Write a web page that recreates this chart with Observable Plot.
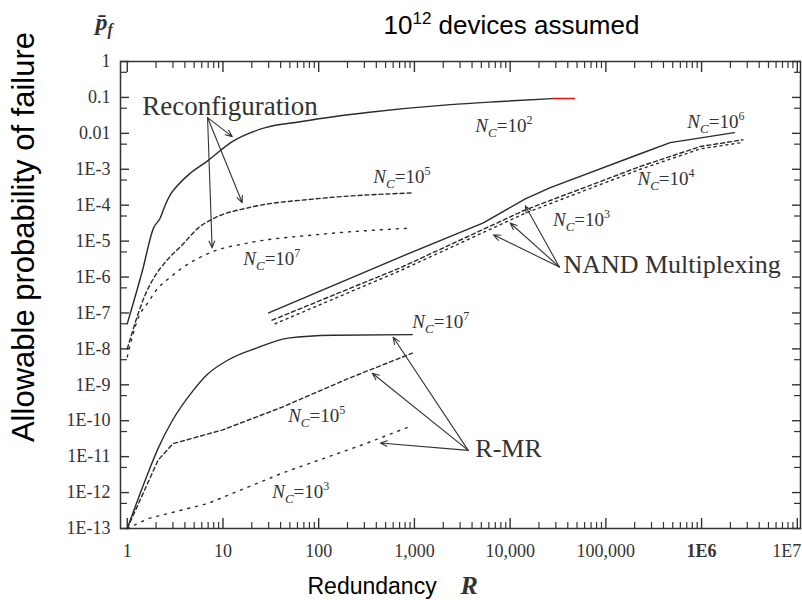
<!DOCTYPE html>
<html><head><meta charset="utf-8">
<script src="https://cdn.jsdelivr.net/npm/d3@7"></script>
<script src="https://cdn.jsdelivr.net/npm/@observablehq/plot@0.6"></script>
<style>body{margin:0;background:#fff} #chart{width:802px;height:600px}</style>
</head><body><div id="chart"></div>
<script>
// ---- Axis ticks ----
const xTickValues = [1, 10, 100, 1e3, 1e4, 1e5, 1e6, 1e7];
const xTickLabels = ["1", "10", "100", "1,000", "10,000", "100,000", "1E6", "1E7"];
const yTickValues = [1, 0.1, 0.01, 1e-3, 1e-4, 1e-5, 1e-6, 1e-7, 1e-8, 1e-9, 1e-10, 1e-11, 1e-12, 1e-13];
const yTickLabels = ["1", "0.1", "0.01", "1E-3", "1E-4", "1E-5", "1E-6", "1E-7", "1E-8", "1E-9", "1E-10", "1E-11", "1E-12", "1E-13"];
const yMinorTicks = [0.5, 0.05, 5e-3, 5e-4, 5e-5, 5e-6, 5e-7, 5e-8, 5e-9, 5e-10, 5e-11, 5e-12, 5e-13];

// ---- Reconfiguration ----
const reconfNc2_R = [1, 1.43, 1.88, 2.21, 2.49, 2.81, 3.18, 4.38, 6.81, 12.5, 27.7, 64, 142, 322, 2370, 7900, 28000];
const reconfNc2_p = [5e-8, 1.4e-6, 2.3e-5, 4.4e-5, 1.0e-4, 1.95e-4, 3.0e-4, 7.1e-4, 1.66e-3, 5.9e-3, 0.0144, 0.021, 0.029, 0.038, 0.063, 0.077, 0.093];
const reconfNc2Tail_R = [28000, 47000];
const reconfNc2Tail_p = [0.093, 0.093];
const reconfNc5_R = [1, 1.54, 1.96, 2.5, 3.76, 5.5, 8.3, 18.4, 92, 976];
const reconfNc5_p = [1e-8, 3.2e-7, 1.1e-6, 2.6e-6, 7.9e-6, 2.3e-5, 4.5e-5, 8.5e-5, 1.5e-4, 2.2e-4];
const reconfNc7_R = [1, 1.3, 1.66, 2.1, 2.7, 3.76, 7.7, 18.4, 92, 910];
const reconfNc7_p = [6e-9, 7.2e-8, 2e-7, 5e-7, 9e-7, 1.8e-6, 5e-6, 8.9e-6, 1.5e-5, 2.3e-5];

// ---- NAND multiplexing ----
const nandNc6_R = [30, 710, 5250, 14400, 26300, 229000, 470000, 2.2e6];
const nandNc6_p = [1e-7, 3.6e-6, 3.2e-5, 1.5e-4, 3.1e-4, 2.7e-3, 5.5e-3, 0.0105];
const nandNc4_R = [32.6, 710, 14400, 229000, 970000, 2.7e6];
const nandNc4_p = [6.3e-8, 1.8e-6, 7.4e-5, 1.2e-3, 4.3e-3, 6.6e-3];
const nandNc3_R = [35, 710, 14400, 229000, 970000, 2.7e6];
const nandNc3_p = [5e-8, 1.5e-6, 6e-5, 1.0e-3, 3.7e-3, 5.6e-3];

// ---- R-MR ----
const rmrNc7_R = [1, 1.54, 2.1, 2.95, 4.9, 6.8, 11.3, 23.4, 48, 140, 950];
const rmrNc7_p = [1e-13, 2.2e-12, 1.7e-11, 1e-10, 7e-10, 1.9e-9, 4.9e-9, 1.1e-8, 2e-8, 2.4e-8, 2.5e-8];
const rmrNc5_R = [1, 2.1, 3.0, 9.8, 41.7, 204, 950];
const rmrNc5_p = [1e-13, 8e-12, 2.3e-11, 5.5e-11, 2.4e-10, 1.5e-9, 7.6e-9];
const rmrNc3_R = [1, 1.66, 7, 41.7, 309, 910];
const rmrNc3_p = [1e-13, 1.9e-13, 5e-13, 3.5e-12, 2.3e-11, 7e-11];

// ---- Curve labels ----
const curveLabelText = ["N_C=10^2", "N_C=10^5", "N_C=10^7", "N_C=10^6", "N_C=10^4", "N_C=10^3", "N_C=10^7", "N_C=10^5", "N_C=10^3"];
const curveLabelR = [4330, 372, 16.3, 7.1e5, 2.14e5, 28000, 950, 48, 32.7];
const curveLabelP = [0.0112, 4.2e-4, 2.2e-6, 0.0144, 3.7e-4, 2.7e-5, 3.8e-8, 9.1e-11, 6.9e-13];

// ---- Group labels ----
const groupLabelText = ["Reconfiguration", "NAND Multiplexing", "R-MR"];
const groupLabelR = [1.435, 36000, 4330];
const groupLabelP = [0.0333, 1.3e-6, 9.6e-12];
const groupLabelSize = [27, 26, 26];

// ---- Annotation arrows ----
const arrowFromR = [6.9, 6.9, 6.9, 32700, 32700, 32700, 3650, 3650, 3650];
const arrowFromP = [0.0275, 0.0275, 0.0275, 1.9e-6, 1.9e-6, 1.9e-6, 1.5e-11, 1.5e-11, 1.5e-11];
const arrowToR = [12.5, 15.9, 7.7, 14400, 10000, 6700, 600, 363, 440];
const arrowToP = [0.0081, 1.17e-4, 6.5e-6, 9.6e-5, 3.2e-5, 1.5e-5, 2.1e-8, 2.1e-9, 2.4e-11];

// ---- build tables ----
const rows = (Rs, Ps) => Rs.map((R, i) => ({R, p: Ps[i]}));
const curveLabels = curveLabelText.map((t, i) => ({t, R: curveLabelR[i], p: curveLabelP[i]}));
const groupLabels = groupLabelText.map((t, i) => ({t, R: groupLabelR[i], p: groupLabelP[i], s: groupLabelSize[i]}));
const arrows = arrowFromR.map((r, i) => ({x1: r, y1: arrowFromP[i], x2: arrowToR[i], y2: arrowToP[i]}));

const isDecade = v => Math.abs(Math.log10(v) - Math.round(Math.log10(v))) < 1e-9;
const xMinorTicks = d3.scaleLog().domain([1, 1e7]).ticks(100).filter(v => !isDecade(v));

const W = 802, H = 600, ML = 120, MR = 2, MT = 61, MB = 72;
const INK = "#2a2a2a";
const TICK = "#333";
const blank = () => "";

const lineStyle = (dash, curve) => ({x: "R", y: "p", stroke: INK, strokeWidth: 1.4, strokeDasharray: dash, curve: curve || "linear"});

// inward-pointing tick marks on all four sides (negative tick size)
const tickAxes = [
  Plot.axisX({anchor: "top", ticks: xTickValues, tickSize: -10, tickFormat: blank, label: null, stroke: TICK, strokeWidth: 1.4}),
  Plot.axisX({anchor: "top", ticks: xMinorTicks, tickSize: -6, tickFormat: blank, label: null, stroke: TICK, strokeWidth: 1.2}),
  Plot.axisX({anchor: "bottom", ticks: xTickValues, tickSize: -10, tickFormat: blank, label: null, stroke: TICK, strokeWidth: 1.4}),
  Plot.axisX({anchor: "bottom", ticks: xMinorTicks, tickSize: -6, tickFormat: blank, label: null, stroke: TICK, strokeWidth: 1.2}),
  Plot.axisY({anchor: "left", ticks: yTickValues, tickSize: -9, tickFormat: blank, label: null, stroke: TICK, strokeWidth: 1.4}),
  Plot.axisY({anchor: "left", ticks: yMinorTicks, tickSize: -7, tickFormat: blank, label: null, stroke: TICK, strokeWidth: 1.2}),
  Plot.axisY({anchor: "right", ticks: yTickValues, tickSize: -9, tickFormat: blank, label: null, stroke: TICK, strokeWidth: 1.4}),
  Plot.axisY({anchor: "right", ticks: yMinorTicks, tickSize: -7, tickFormat: blank, label: null, stroke: TICK, strokeWidth: 1.2})
];

const svg = Plot.plot({
  width: W, height: H,
  marginLeft: ML, marginRight: MR, marginTop: MT, marginBottom: MB,
  x: {type: "log", domain: [0.85, 1.08e7]},
  y: {type: "log", domain: [1e-13, 1]},
  style: {fontFamily: "'Liberation Serif', serif", fontSize: "18px", color: "#333", background: "#fff"},
  marks: [
    Plot.frame({stroke: "#333", strokeWidth: 1.5}),
    ...tickAxes,
    Plot.axisX({ticks: xTickValues.slice(0, -1), anchor: "bottom", tickSize: 0, tickPadding: 16, label: null,
      tickFormat: d => xTickLabels[Math.round(Math.log10(d))], fill: "#333"}),
    Plot.axisX({ticks: xTickValues.slice(-1), anchor: "bottom", tickSize: 0, tickPadding: 16, label: null, textAnchor: "end", dx: 4,
      tickFormat: d => xTickLabels[Math.round(Math.log10(d))], fill: "#333"}),
    Plot.axisY({ticks: yTickValues, anchor: "left", tickSize: 0, tickPadding: 10, label: null,
      tickFormat: d => yTickLabels[-Math.round(Math.log10(d))], fill: "#333"}),
    // Reconfiguration curves
    Plot.line(rows(reconfNc2_R, reconfNc2_p), lineStyle(null, "monotone-x")),
    Plot.line(rows(reconfNc2Tail_R, reconfNc2Tail_p), {x: "R", y: "p", stroke: "#e3120b", strokeWidth: 1.4}),
    Plot.line(rows(reconfNc5_R, reconfNc5_p), lineStyle("4,3", "monotone-x")),
    Plot.line(rows(reconfNc7_R, reconfNc7_p), lineStyle("2,6", "monotone-x")),
    // NAND multiplexing
    Plot.line(rows(nandNc6_R, nandNc6_p), lineStyle(null)),
    Plot.line(rows(nandNc4_R, nandNc4_p), lineStyle("4,3")),
    Plot.line(rows(nandNc3_R, nandNc3_p), lineStyle("2,4")),
    // R-MR
    Plot.line(rows(rmrNc7_R, rmrNc7_p), lineStyle(null, "monotone-x")),
    Plot.line(rows(rmrNc5_R, rmrNc5_p), lineStyle("4,3")),
    Plot.line(rows(rmrNc3_R, rmrNc3_p), lineStyle("2,6")),
    // arrows
    Plot.arrow(arrows, {x1: "x1", y1: "y1", x2: "x2", y2: "y2", stroke: "#333", strokeWidth: 1.1, headLength: 10, headAngle: 45}),
    // labels
    Plot.text(curveLabels, {x: "R", y: "p", text: "t", textAnchor: "start", lineAnchor: "bottom", fontSize: 19, fill: "#333"}),
    Plot.text(groupLabels, {x: "R", y: "p", text: "t", textAnchor: "start", lineAnchor: "bottom", fontSize: "s", fill: "#333"}),
    // titles in margins
    Plot.text(["10^12 devices assumed"], {text: d => d, frameAnchor: "top-left", dx: 263, dy: -28, textAnchor: "start", lineAnchor: "bottom",
      fontFamily: "'Liberation Sans', Arial, sans-serif", fontSize: 26, fill: "#000"}),
    Plot.text(["p̄_f"], {text: d => d, frameAnchor: "top-left", dx: -25, dy: -32, textAnchor: "start", lineAnchor: "bottom",
      fontFamily: "'Liberation Serif', serif", fontSize: 24, fontWeight: "bold", fontStyle: "italic", fill: "#333"}),
    Plot.text(["Allowable probability of failure"], {text: d => d, frameAnchor: "left", dx: -87, dy: -58, rotate: -90, textAnchor: "middle", lineAnchor: "bottom",
      fontFamily: "'Liberation Sans', Arial, sans-serif", fontSize: 31, fill: "#000"}),
    Plot.text(["Redundancy"], {text: d => d, frameAnchor: "bottom-left", dx: 187, dy: 65, textAnchor: "start", lineAnchor: "bottom",
      fontFamily: "'Liberation Sans', Arial, sans-serif", fontSize: 23, fill: "#000"}),
    Plot.text(["R"], {text: d => d, frameAnchor: "bottom-left", dx: 340, dy: 65, textAnchor: "start", lineAnchor: "bottom",
      fontFamily: "'Liberation Serif', serif", fontSize: 26, fontWeight: "bold", fontStyle: "italic", fill: "#333"})
  ]
});

// rich text: subscripts and superscripts
const NS = "http://www.w3.org/2000/svg";
function span(parent, txt, attrs) {
  const s = document.createElementNS(NS, "tspan");
  for (const k in attrs) s.setAttribute(k, attrs[k]);
  s.textContent = txt;
  parent.appendChild(s);
}
svg.querySelectorAll("text").forEach(t => {
  const c = t.textContent;
  let m = c.match(/^N_C=10\^(\d+)$/);
  if (m) {
    t.textContent = "";
    span(t, "N", {"font-style": "italic"});
    span(t, "C", {"font-style": "italic", "font-size": "13px", "dy": "5"});
    span(t, "=10", {"dy": "-5"});
    span(t, m[1], {"font-size": "12px", "dy": "-8"});
    return;
  }
  if (c === "10^12 devices assumed") {
    t.textContent = "";
    span(t, "10", {});
    span(t, "12", {"font-size": "17px", "dy": "-10"});
    span(t, " devices assumed", {"dy": "10"});
    return;
  }
  if (c === "p̄_f") {
    t.textContent = "";
    span(t, "p̄", {});
    span(t, "f", {"font-size": "16px", "dy": "5"});
    return;
  }
  if (c === "1E6") t.setAttribute("font-weight", "bold");
});

document.getElementById("chart").appendChild(svg);
</script></body></html>
